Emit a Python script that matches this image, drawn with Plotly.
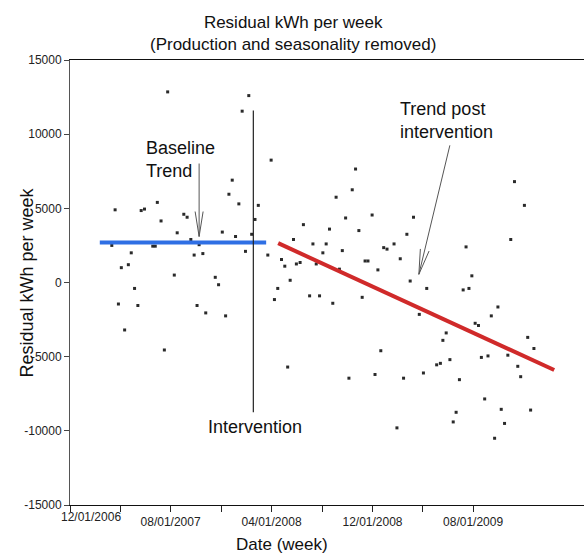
import plotly.graph_objects as go

# ---- data ----
dates = [
    "2007-03-12", "2007-03-20", "2007-03-28", "2007-04-04", "2007-04-12", "2007-04-21",
    "2007-04-28", "2007-05-06", "2007-05-14", "2007-05-22", "2007-05-30", "2007-06-19",
    "2007-06-25", "2007-06-30", "2007-07-09", "2007-07-17", "2007-07-25", "2007-08-10",
    "2007-08-17", "2007-09-02", "2007-09-10", "2007-09-19", "2007-09-27", "2007-10-04",
    "2007-10-09", "2007-10-18", "2007-10-25", "2007-11-17", "2007-11-25", "2007-12-04",
    "2007-12-12", "2007-12-20", "2007-12-28", "2008-01-05", "2008-01-13", "2008-01-21",
    "2008-01-29", "2008-02-06", "2008-02-13",
    "2008-02-21", "2008-02-29", "2008-03-23", "2008-03-31", "2008-04-08", "2008-04-16",
    "2008-04-25", "2008-05-03", "2008-05-10", "2008-05-16", "2008-05-24", "2008-05-31",
    "2008-06-09", "2008-06-17", "2008-07-02", "2008-07-10", "2008-07-18", "2008-07-26",
    "2008-08-03", "2008-08-11", "2008-08-19", "2008-08-27", "2008-09-04", "2008-09-12",
    "2008-09-19", "2008-09-27", "2008-10-05", "2008-10-13", "2008-10-21", "2008-10-29",
    "2008-11-06", "2008-11-13", "2008-11-20", "2008-11-30", "2008-12-07", "2008-12-14",
    "2008-12-21", "2008-12-28", "2009-01-05", "2009-01-22", "2009-01-29", "2009-02-06",
    "2009-02-14", "2009-02-22", "2009-03-02", "2009-03-10", "2009-03-24", "2009-04-03",
    "2009-04-11", "2009-05-05", "2009-05-14", "2009-05-20", "2009-05-28", "2009-06-06",
    "2009-06-14", "2009-06-21", "2009-06-29", "2009-07-08", "2009-07-15", "2009-07-22",
    "2009-07-29", "2009-08-06", "2009-08-14", "2009-08-21", "2009-08-29", "2009-09-06",
    "2009-09-14", "2009-09-22", "2009-09-30", "2009-10-08", "2009-10-16", "2009-10-24",
    "2009-10-31", "2009-11-09", "2009-11-17", "2009-11-24", "2009-12-03", "2009-12-11",
    "2009-12-18", "2009-12-26",
]
residual_kwh = [
    2500, 4900, -1450, 1000, -3200, 1200,
    2000, -400, -1550, 4850, 4950, 2450,
    2450, 5400, 4150, -4550, 12850, 500,
    3350, 4600, 4400, 2900, 1850, -1550,
    2550, 1950, -2050, 350, -150, 3400,
    -2250, 5950, 6900, 3100, 5300, 11550,
    2100, 12600, 3250,
    4250, 5200, 1850, 8250, -1150, -400,
    1550, 1100, -5700, 150, 2900, 1250,
    1350, 3900, -900, 2600, 1250, -900,
    2000, 2600, 3600, -1400, 5750, 900,
    2150, 4350, -6450, 6250, 7650, 3500,
    -1000, 1450, 1450, 4550, -6200, 850,
    -4600, 2350, 2250, 2600, -9800, 1600,
    -6450, 3250, 100, 4400, -2150, -6100,
    -400, -5550, -5450, -3900, -3400, -5200,
    -9400, -8750, -6550, -500, 2400, -400,
    450, -2750, -2900, -5050, -7850, -4950,
    -2250, -10500, -1650, -8550, -9500, -4900,
    2900, 6800, -5650, -6350, 5200, -3700,
    -8600, -4450,
]

baseline_dates = ["2007-02-11", "2008-03-19"]
baseline_vals = [2700, 2700]
post_dates = ["2008-04-17", "2010-02-13"]
post_vals = [2650, -5900]

intervention_date = "2008-02-17"
intervention_span = [-8750, 11600]

x_tick_vals = ["2006-12-01", "2007-04-01", "2007-08-01", "2007-12-01", "2008-04-01",
               "2008-08-01", "2008-12-01", "2009-04-01", "2009-08-01"]
x_tick_text = ["", "", "08/01/2007", "", "04/01/2008", "", "12/01/2008", "", "08/01/2009"]
first_x_label = "12/01/2006"
y_tick_vals = [-15000, -10000, -5000, 0, 5000, 10000, 15000]
y_tick_text = ["-15000", "-10000", "-5000", "0", "5000", "10000", "15000"]

FONT = "Liberation Sans, Arial, sans-serif"

fig = go.Figure()
fig.add_trace(go.Scatter(x=dates, y=residual_kwh, mode="markers",
                         marker=dict(size=3, color="#2a2a2a", symbol="square"),
                         showlegend=False, hoverinfo="x+y"))
fig.add_trace(go.Scatter(x=baseline_dates, y=baseline_vals, mode="lines",
                         line=dict(color="#2f6fe4", width=4), showlegend=False))
fig.add_trace(go.Scatter(x=post_dates, y=post_vals, mode="lines",
                         line=dict(color="#d02a2a", width=4), showlegend=False))

shapes = []
# intervention vertical line
shapes.append(dict(type="line", xref="x", yref="y", x0=intervention_date, x1=intervention_date,
                   y0=intervention_span[0], y1=intervention_span[1],
                   line=dict(color="#222222", width=1.2)))

def arrow(tip_x, tip_y, dx, dy, head):
    # shaft and open V head, in pixel offsets from the tip
    out = []
    segs = [(0, 0, dx, dy)] + [(0, 0, hx, hy) for hx, hy in head]
    for x0, y0, x1, y1 in segs:
        out.append(dict(type="line", xref="x", yref="y", xsizemode="pixel", ysizemode="pixel",
                        xanchor=tip_x, yanchor=tip_y, x0=x0, x1=x1, y0=y0, y1=y1,
                        line=dict(color="#555555", width=1)))
    return out

shapes += arrow("2007-10-09", 3100, 0, 73, [(-4, 25), (4, 25)])
shapes += arrow("2009-03-23", 550, 31, 129, [(10.2, 23.3), (1.5, 25.4)])

annotations = [
    dict(text="Residual kWh per week<br>(Production and seasonality removed)",
         xref="paper", yref="paper", x=0.434, y=1, yshift=27, xanchor="center", yanchor="middle",
         showarrow=False, font=dict(family=FONT, size=17, color="#111111")),
    dict(text="Date (week)", xref="paper", yref="paper", x=0.4134, y=0, yshift=-39,
         xanchor="center", yanchor="middle", showarrow=False,
         font=dict(family=FONT, size=17, color="#111111")),
    dict(text="Residual kWh per week", xref="paper", yref="paper", x=0, xshift=-44, y=0.5,
         textangle=-90, xanchor="center", yanchor="middle", showarrow=False,
         font=dict(family=FONT, size=18, color="#111111")),
    dict(text=first_x_label, xref="paper", yref="paper", x=0, xshift=21, y=0, yshift=-12,
         xanchor="center", yanchor="middle", showarrow=False,
         font=dict(family=FONT, size=12, color="#222222")),
    dict(text="Baseline<br>Trend", xref="x", yref="y", x="2007-05-30", y=8326,
         xanchor="left", yanchor="middle", align="left", showarrow=False,
         font=dict(family=FONT, size=18, color="#111111")),
    dict(text="Trend post<br>intervention", xref="x", yref="y", x="2009-01-31", y=10921,
         xanchor="left", yanchor="middle", align="left", showarrow=False,
         font=dict(family=FONT, size=18, color="#111111")),
    dict(text="Intervention", xref="x", yref="y", x="2007-10-25", y=-9742,
         xanchor="left", yanchor="middle", align="left", showarrow=False,
         font=dict(family=FONT, size=18, color="#111111")),
]

fig.update_layout(
    width=584, height=554,
    margin=dict(l=70, r=0, t=60, b=49),
    paper_bgcolor="white", plot_bgcolor="white",
    font=dict(family=FONT, size=12, color="#222222"),
    shapes=shapes, annotations=annotations,
    xaxis=dict(type="date", range=["2006-12-01", "2010-04-26"],
               tickmode="array", tickvals=x_tick_vals, ticktext=x_tick_text,
               ticks="outside", ticklen=6, tickcolor="#222222", tickwidth=1,
               showline=True, linecolor="#111111", linewidth=1, mirror=True,
               showgrid=False, zeroline=False,
               tickfont=dict(family=FONT, size=12, color="#222222")),
    yaxis=dict(range=[-15000, 15000], tickmode="array", tickvals=y_tick_vals,
               ticktext=y_tick_text,
               ticks="outside", ticklen=5, tickcolor="#444444",
               showline=True, linecolor="#555555", linewidth=1,
               showgrid=False, zeroline=False,
               tickfont=dict(family=FONT, size=12, color="#222222")),
)

fig.write_html("out.html",
               config={"displayModeBar": False},
               post_script="document.body.style.margin='0';document.body.style.padding='0';"
                           "document.documentElement.style.overflow='hidden';")
